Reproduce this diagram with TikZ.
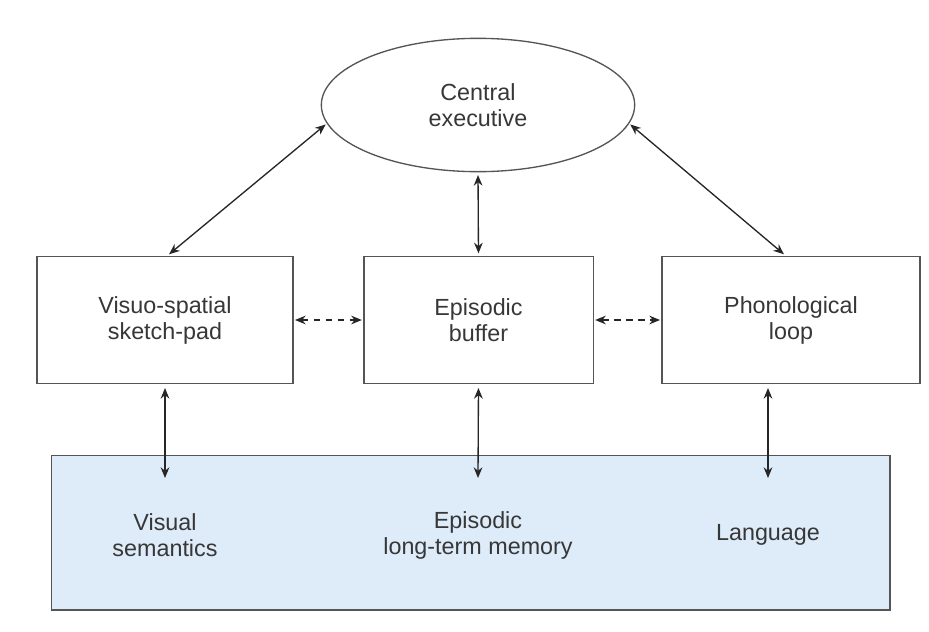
\documentclass[tikz,border=0pt]{standalone}
\usepackage{fontspec}
\setmainfont{Liberation Sans}
\usetikzlibrary{shapes.geometric,arrows.meta,positioning,calc}
\definecolor{linec}{RGB}{85,85,85}
\definecolor{textc}{RGB}{55,55,55}
\definecolor{ltmfill}{RGB}{222,235,249}
\begin{document}
\begin{tikzpicture}[x=0.75pt,y=-0.75pt,
  every node/.style={font=\fontsize{17.5}{19.5}\selectfont, text=textc, align=center},
  compbox/.style={draw=linec, line width=1pt, rectangle, minimum height=95pt, inner sep=0pt},
  link/.style={draw=black!85, line width=1pt, {Stealth[length=8pt,width=6.5pt]}-{Stealth[length=8pt,width=6.5pt]}},
  dlink/.style={link, dash pattern=on 5pt off 4pt}]
\useasboundingbox (0,0) rectangle (929,632);
\node[draw=linec, line width=1pt, ellipse, minimum width=235pt, minimum height=100pt, inner sep=0pt] (ce) at (478,105) {Central\\executive};
\node[compbox, minimum width=192pt] (vs) at (165,320) {Visuo-spatial\\sketch-pad};
\node[compbox, minimum width=172pt] (eb) at (478.5,320) {Episodic\\buffer};
\node[compbox, minimum width=193.5pt] (pl) at (791,320) {Phonological\\loop};
\node[draw=linec, line width=1pt, fill=ltmfill, rectangle, minimum width=629pt, minimum height=116pt, inner sep=0pt] (ltm) at (470.5,532.5) {};
\node (vsem) at (165,535) {Visual\\semantics};
\node (eltm) at (478,535) {Episodic\\long-term memory};
\node (lang) at (768,535) {Language};
\coordinate (a1) at (165,478);
\coordinate (a2) at (478,478);
\coordinate (a3) at (768,478);
\draw[link, shorten <=2pt, shorten >=1pt] ($(vs.north)+(2,0)$) -- (ce.187);
\draw[link, shorten <=2pt, shorten >=1pt] ($(pl.north)+(-5,0)$) -- (ce.353);
\draw[link, shorten <=2pt, shorten >=2pt] (eb.north) -- (ce.south);
\draw[dlink, shorten <=1pt, shorten >=1pt] (vs.east) -- (eb.west);
\draw[dlink, shorten <=1pt, shorten >=1pt] (eb.east) -- (pl.west);
\draw[link, shorten <=3pt] (vs.south) -- (a1);
\draw[link, shorten <=3pt] (eb.south) -- (a2);
\draw[link, shorten <=3pt] (pl.south -| a3) -- (a3);
\end{tikzpicture}
\end{document}
